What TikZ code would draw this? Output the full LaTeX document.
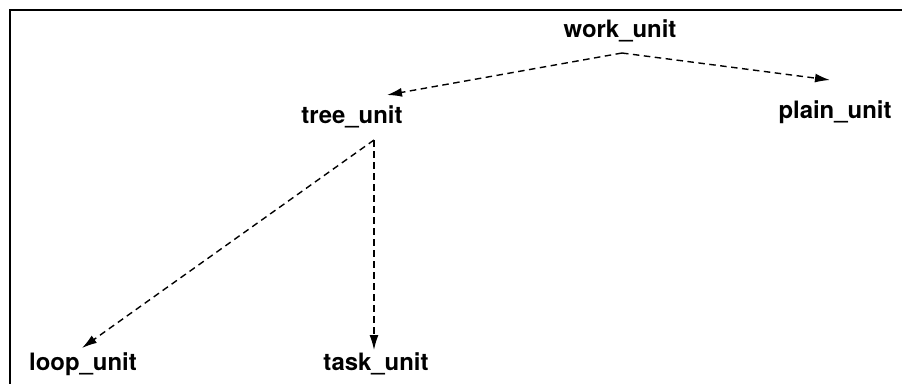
\documentclass[tikz,border=0pt]{standalone}
\usepackage{fontspec}
\setmainfont{TeX Gyre Heros}
\usetikzlibrary{arrows.meta}
\begin{document}
\begin{tikzpicture}[x=1bp,y=-1bp,
  lbl/.style={anchor=base,inner sep=0pt,font=\fontsize{24}{28}\selectfont\bfseries},
  dep/.style={line width=1.4bp,dash pattern=on 6.5bp off 4.5bp,-{Latex[length=15bp,width=9bp]}},
  frame/.style={line width=1.6bp}]
\useasboundingbox (0,0) rectangle (902,384);
\draw[frame] (902,10) -- (10,10) -- (10,384);
\node[lbl] (work)  at (620,37)  {work\_unit};
\node[lbl] (tree)  at (352,123) {tree\_unit};
\node[lbl] (plain) at (835,118) {plain\_unit};
\node[lbl] (loop)  at (83,370)  {loop\_unit};
\node[lbl] (task)  at (376,370) {task\_unit};
\coordinate (wsrc) at (622,53);
\coordinate (tsrc) at (374,140);
\coordinate (treein) at (387,95);
\coordinate (plainin) at (830,80);
\coordinate (loopin) at (82,348);
\coordinate (taskin) at (374,350);
\draw[dep] (wsrc) -- (treein);
\draw[dep] (wsrc) -- (plainin);
\draw[dep] (tsrc) -- (loopin);
\draw[dep] (tsrc) -- (taskin);
\end{tikzpicture}
\end{document}
